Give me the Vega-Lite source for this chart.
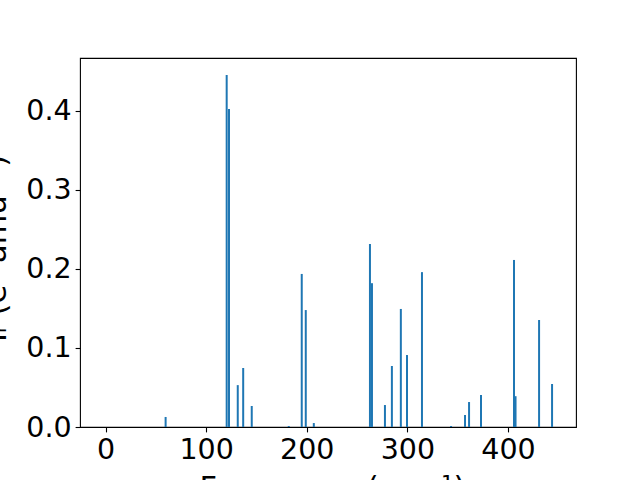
{
  "$schema": "https://vega.github.io/schema/vega-lite/v6.json",
  "autosize": {"type": "none"},
  "width": 496,
  "height": 369,
  "padding": {"left": 80, "top": 58, "right": 64, "bottom": 53},
  "background": "white",
  "config": {
    "view": {"stroke": "black", "strokeWidth": 1.1},
    "font": "DejaVu Sans"
  },
  "data": {
    "values": [
      {"freq": 59.7, "ir": 0.0127},
      {"freq": 120.4, "ir": 0.4456},
      {"freq": 122.7, "ir": 0.4025},
      {"freq": 131.4, "ir": 0.053},
      {"freq": 136.8, "ir": 0.0747},
      {"freq": 145.3, "ir": 0.0266},
      {"freq": 182.1, "ir": 0.0013},
      {"freq": 195.0, "ir": 0.1937},
      {"freq": 199.0, "ir": 0.148},
      {"freq": 207.0, "ir": 0.005},
      {"freq": 262.8, "ir": 0.2316},
      {"freq": 264.8, "ir": 0.182},
      {"freq": 277.7, "ir": 0.0278},
      {"freq": 284.6, "ir": 0.0772},
      {"freq": 293.5, "ir": 0.1494},
      {"freq": 299.6, "ir": 0.0911},
      {"freq": 314.5, "ir": 0.196},
      {"freq": 343.4, "ir": 0.0013},
      {"freq": 357.3, "ir": 0.0152},
      {"freq": 361.3, "ir": 0.0316},
      {"freq": 373.2, "ir": 0.0405},
      {"freq": 406.0, "ir": 0.2114},
      {"freq": 407.5, "ir": 0.039},
      {"freq": 430.9, "ir": 0.1354},
      {"freq": 443.8, "ir": 0.0544}
    ]
  },
  "mark": {"type": "bar", "orient": "vertical", "width": 2, "color": "#1f77b4", "clip": true},
  "encoding": {
    "x": {
      "field": "freq",
      "type": "quantitative",
      "scale": {"domain": [-25.4, 467.6], "nice": false, "zero": false, "padding": 0},
      "axis": {
        "title": "Frequency (cm⁻¹)",
        "values": [0, 100, 200, 300, 400],
        "format": "d",
        "grid": false,
        "domain": false,
        "tickColor": "black",
        "tickWidth": 1.1,
        "tickSize": 4.9,
        "labelPadding": 4,
        "labelFontSize": 28.5,
        "labelColor": "black",
        "labelFont": "DejaVu Sans",
        "titleFont": "DejaVu Sans",
        "titleFontSize": 30.5,
        "titleFontWeight": "normal",
        "titleColor": "black",
        "titleBaseline": "alphabetic",
        "titleAlign": "center",
        "titleX": 252,
        "titleY": 70
      }
    },
    "y": {
      "field": "ir",
      "type": "quantitative",
      "scale": {"domain": [0, 0.467], "nice": false, "padding": 0},
      "axis": {
        "title": "Iᵣ (e² amu⁻¹)",
        "values": [0, 0.1, 0.2, 0.3, 0.4],
        "format": ".1f",
        "grid": false,
        "domain": false,
        "tickColor": "black",
        "tickWidth": 1.1,
        "tickSize": 4.9,
        "labelPadding": 4,
        "labelFontSize": 28.5,
        "labelColor": "black",
        "labelFont": "DejaVu Sans",
        "titleFont": "DejaVu Sans",
        "titleFontSize": 30.5,
        "titleFontWeight": "normal",
        "titleColor": "black",
        "titleAngle": 270,
        "titleBaseline": "alphabetic",
        "titleAlign": "center",
        "titleX": -75,
        "titleY": 190
      }
    }
  }
}
